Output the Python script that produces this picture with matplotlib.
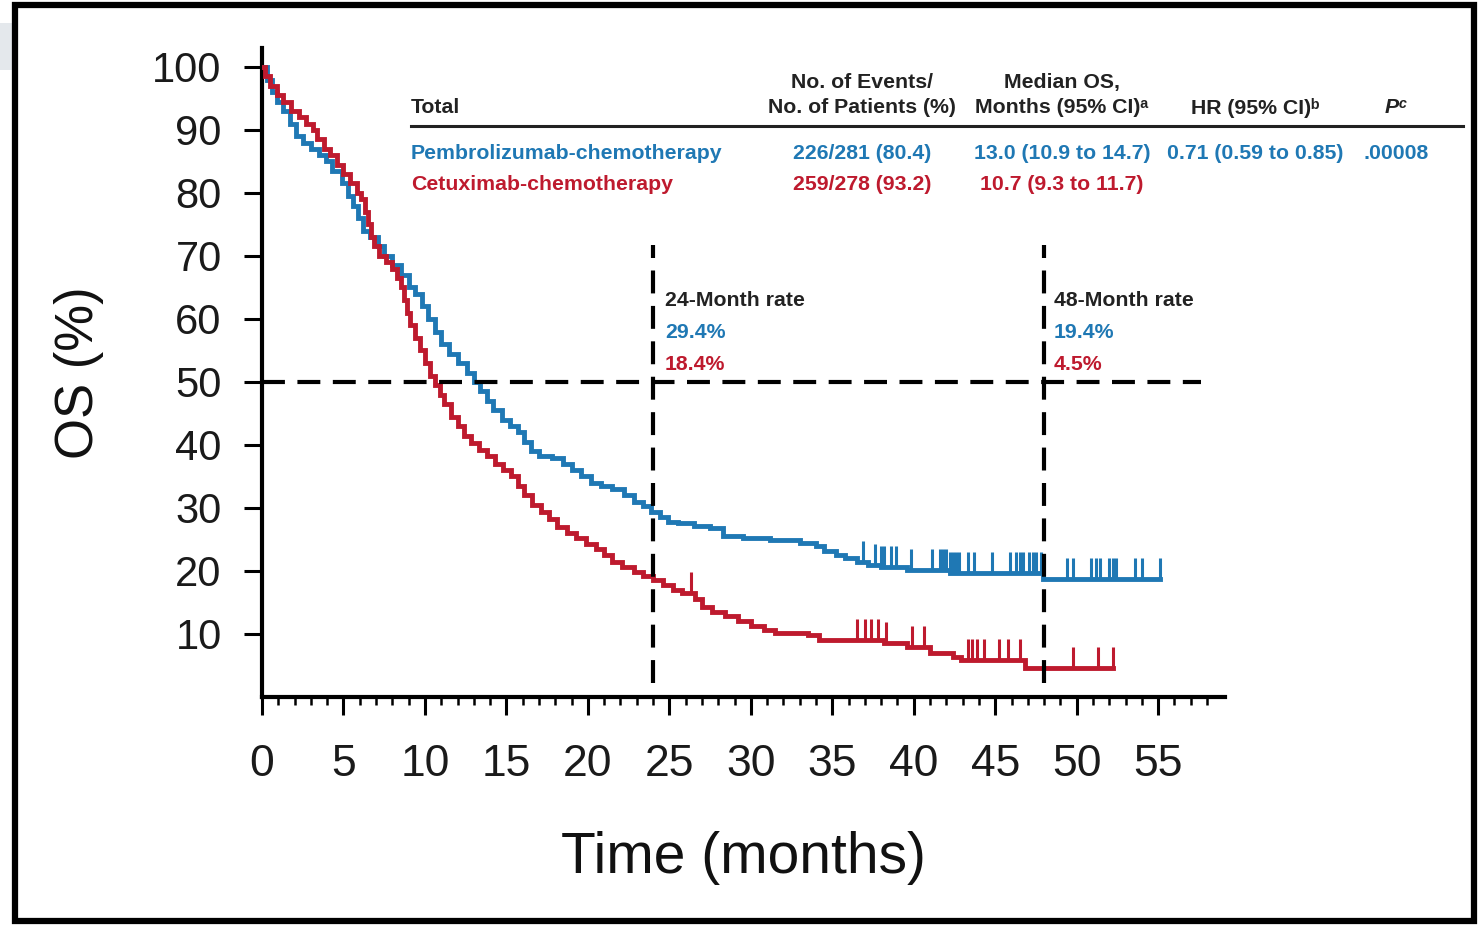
import numpy as np
import matplotlib
matplotlib.use('Agg')
import matplotlib.pyplot as plt
from matplotlib.patches import Rectangle
from matplotlib.ticker import MultipleLocator, FixedLocator

BLUE = '#1f78b4'
RED = '#be1a2e'

# Kaplan-Meier OS (months, % alive)
blue_t = [0, 0.3, 0.6, 0.9, 1.3, 1.7, 2.1, 2.5, 3.0, 3.5, 3.9, 4.3, 4.9, 5.3, 5.6, 5.9,
          6.2, 6.6, 7.1, 7.5, 8.0, 8.5, 9.0, 9.4, 9.8, 10.2, 10.6, 11.0, 11.5, 12.0,
          12.6, 13.0, 13.4, 13.8, 14.2, 14.7, 15.2, 15.7, 16.1, 16.5, 17.0, 17.8, 18.5,
          19.0, 19.6, 20.2, 20.8, 21.5, 22.2, 22.8, 23.4, 23.9, 24.4, 24.9, 25.5, 26.5,
          27.5, 28.3, 29.5, 31.2, 33.0, 34.0, 34.5, 35.2, 35.8, 36.5, 37.2, 38.0, 39.6,
          42.2, 47.9, 55.1]
blue_s = [100, 98, 96, 94.5, 93, 91, 89, 88, 87, 86, 85, 83.5, 81.5, 79.5, 78, 76,
          74, 73, 71.5, 70, 68.5, 67, 65, 64, 62, 60, 58, 56, 54.5, 53,
          51.5, 50, 48.5, 47, 45.5, 44, 43, 42, 40.5, 39, 38.3, 38, 37,
          36, 35, 34, 33.5, 33, 32, 31, 30.3, 29.4, 28.5, 27.8, 27.6, 27.2,
          26.8, 25.6, 25.2, 24.9, 24.5, 24.0, 23.2, 22.6, 22.0, 21.4, 21.0, 20.6, 20.2,
          19.7, 18.8, 18.8]
blue_cens = [36.9, 37.6, 38.0, 38.2, 38.6, 38.9, 39.8, 41.1, 41.6, 41.8, 42.0, 42.2,
             42.4, 42.6, 42.8, 43.3, 43.7, 44.8, 45.9, 46.3, 46.5, 46.7, 47.1, 47.3,
             47.5, 47.8, 49.4, 49.8, 50.9, 51.2, 51.4, 52.0, 52.2, 52.4, 53.6, 54.0, 55.1]

red_t = [0, 0.2, 0.5, 0.9, 1.3, 1.8, 2.3, 2.7, 3.1, 3.4, 3.8, 4.2, 4.6, 5.0, 5.4, 5.8,
         6.1, 6.3, 6.5, 6.7, 6.9, 7.2, 7.6, 8.0, 8.3, 8.5, 8.7, 8.9, 9.1, 9.4,
         9.7, 10.0, 10.3, 10.6, 10.9, 11.2, 11.6, 12.0, 12.4, 12.8, 13.3, 13.8, 14.3,
         14.8, 15.3, 15.7, 16.1, 16.6, 17.1, 17.6, 18.1, 18.7, 19.3, 19.9, 20.5, 21.0,
         21.5, 22.1, 22.8, 23.4, 24.0, 24.6, 25.2, 25.8, 26.6, 27.0, 27.6, 28.4, 29.2,
         30.0, 30.8, 31.5, 33.5, 34.2, 38.2, 39.6, 41.0, 42.4, 42.9, 46.8, 52.2]
red_s = [100, 98.5, 97, 95.5, 94.5, 93, 92, 91, 90, 88.5, 87, 86, 84.5, 83, 81.5, 80,
         79, 77, 75, 73, 71.5, 70, 69, 68, 66.5, 65, 63, 61, 59, 57,
         55, 53, 51, 49.5, 48, 46.5, 44.5, 43, 41.5, 40.3, 39.2, 38.2, 37,
         36, 35, 33.5, 32, 30.5, 29.3, 28.2, 27, 26, 25.2, 24.3, 23.5, 22.5,
         21.5, 20.7, 19.8, 19.2, 18.5, 17.8, 17.0, 16.5, 15.5, 14.3, 13.5, 12.8, 12.0,
         11.3, 10.7, 10.1, 9.8, 9.0, 8.6, 7.9, 7.0, 6.3, 5.9, 4.6, 4.6]
red_cens = [26.3, 36.5, 37.0, 37.4, 37.8, 38.3, 39.9, 40.6, 43.3, 43.6, 43.9, 44.3,
            45.2, 45.8, 46.5, 49.8, 51.3, 52.2]

# table + landmark rates
arms = ['Pembrolizumab-chemotherapy', 'Cetuximab-chemotherapy']
events = ['226/281 (80.4)', '259/278 (93.2)']
medians = ['13.0 (10.9 to 14.7)', '10.7 (9.3 to 11.7)']
hr_text = '0.71 (0.59 to 0.85)'
p_text = '.00008'
rate_24 = ['29.4%', '18.4%']
rate_48 = ['19.4%', '4.5%']

TICK_FONT = ['Liberation Sans', 'DejaVu Sans']
TXT_FONT = ['Liberation Sans', 'DejaVu Sans']


def step_value(times, surv, t):
    idx = np.searchsorted(times, t, side='right') - 1
    return np.asarray(surv)[idx]


fig = plt.figure(figsize=(14.81, 9.25), dpi=100)
ax = fig.add_axes([262 / 1481, 228 / 925, 963 / 1481, 649 / 925])
ax.set_xlim(0, 59.1)
ax.set_ylim(0, 103)

# curves + censor ticks
for t, s, cens, col in [(blue_t, blue_s, blue_cens, BLUE), (red_t, red_s, red_cens, RED)]:
    ax.plot(t, s, drawstyle='steps-post', color=col, lw=3.5, zorder=3, solid_joinstyle='miter')
    base = step_value(t, s, cens)
    ax.vlines(cens, base, base + 3.3, color=col, lw=2.2, zorder=3)

# reference lines
ax.hlines(50, 0, 57.6, colors='black', lw=3, linestyles=(0, (5.5, 3)), zorder=4)
ax.vlines([24, 48], 2.2, 71.7, colors='black', lw=3, linestyles=(0, (5.5, 3)), zorder=4)

# axes styling
for side in ['top', 'right']:
    ax.spines[side].set_visible(False)
for side in ['left', 'bottom']:
    ax.spines[side].set_linewidth(3)
ax.set_yticks(range(10, 101, 10))
ax.xaxis.set_major_locator(MultipleLocator(5))
ax.xaxis.set_minor_locator(FixedLocator(range(0, 59)))
ax.set_xticks(range(0, 56, 5))
ax.tick_params(axis='y', direction='out', length=13, width=2.2, pad=16, labelsize=30)
ax.tick_params(axis='x', which='major', direction='out', length=13, width=2.2, pad=21, labelsize=32)
ax.tick_params(axis='x', which='minor', direction='out', length=6, width=1.8)
for lab in ax.get_xticklabels() + ax.get_yticklabels():
    lab.set_family(TICK_FONT)
    lab.set_color('#1a1a1a')

ax.set_xlabel('Time (months)', fontsize=41, family=TICK_FONT, color='#111')
ax.xaxis.set_label_coords(0.5, -0.248)
ax.xaxis.label.set_va('center')
ax.set_ylabel('OS (%)', fontsize=38, family=TICK_FONT, color='#111')
ax.yaxis.set_label_coords(-0.19, 0.5)
ax.yaxis.label.set_va('center')

# summary table
fs = 15.3
kw = dict(fontsize=fs, fontweight='bold', family=TXT_FONT, clip_on=False, va='center')
col_x = [36.83, 49.1, 60.96, 69.6]
ax.text(col_x[0], 97.5, 'No. of Events/', ha='center', color='#222', **kw)
ax.text(col_x[1], 97.5, 'Median OS,', ha='center', color='#222', **kw)
ax.text(9.15, 93.5, 'Total', ha='left', color='#222', **kw)
ax.text(col_x[0], 93.5, 'No. of Patients (%)', ha='center', color='#222', **kw)
ax.text(col_x[1], 93.5, 'Months (95% CI)\u1d43', ha='center', color='#222', **kw)
ax.text(col_x[2], 93.5, 'HR (95% CI)\u1d47', ha='center', color='#222', **kw)
ax.text(col_x[3], 93.5, 'P\u1d9c', ha='center', color='#222', fontstyle='italic', **kw)
ax.plot([9.15, 73.7], [90.6, 90.6], color='#222', lw=2.2, clip_on=False)

row_y = [86.3, 81.3]
for i, col in enumerate([BLUE, RED]):
    ax.text(9.15, row_y[i], arms[i], ha='left', color=col, **kw)
    ax.text(col_x[0], row_y[i], events[i], ha='center', color=col, **kw)
    ax.text(col_x[1], row_y[i], medians[i], ha='center', color=col, **kw)
ax.text(col_x[2], row_y[0], hr_text, ha='center', color=BLUE, **kw)
ax.text(col_x[3], row_y[0], p_text, ha='center', color=BLUE, **kw)

# landmark annotations
for x0, head, rates in [(24.74, '24-Month rate', rate_24), (48.6, '48-Month rate', rate_48)]:
    ax.text(x0, 63.0, head, ha='left', color='#222', **kw)
    ax.text(x0, 57.9, rates[0], ha='left', color=BLUE, **kw)
    ax.text(x0, 52.7, rates[1], ha='left', color=RED, **kw)

# screenshot frame
fig.patches.append(Rectangle((0, 1 - 70 / 925), 12 / 1481, 47 / 925, transform=fig.transFigure,
                             facecolor='#e4e8ec', edgecolor='none', zorder=0))
fig.patches.append(Rectangle((15 / 1481, 4 / 925), 1459 / 1481, 916 / 925, transform=fig.transFigure,
                             fill=False, edgecolor='black', lw=4.5, zorder=10))

fig.savefig('out.png', dpi=100)
